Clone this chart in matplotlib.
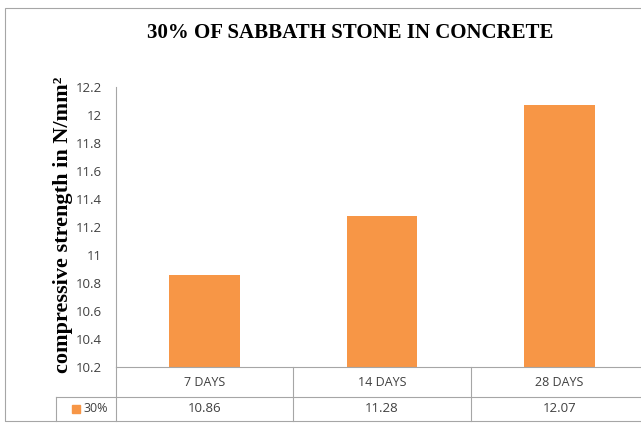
import matplotlib
matplotlib.use("Agg")
import matplotlib.pyplot as plt
from matplotlib.patches import Rectangle
from matplotlib.lines import Line2D
import matplotlib.transforms as mtransforms

# compressive strength results for the 30% mix
ages = ["7 DAYS", "14 DAYS", "28 DAYS"]
strength = [10.86, 11.28, 12.07]
series_name = "30%"
yticks = [10.2, 10.4, 10.6, 10.8, 11, 11.2, 11.4, 11.6, 11.8, 12, 12.2]

bar_color = "#F79646"
line_color = "#A6A6A6"
text_color = "#404040"
sans = ["Open Sans", "DejaVu Sans"]
serif = ["Liberation Serif", "DejaVu Serif"]

W, H = 641, 426
fig = plt.figure(figsize=(W / 100, H / 100), dpi=100)

# plot area in pixel terms
left_px, right_px, top_px, bottom_px = 116, 648, 87, 367
ax = fig.add_axes([left_px / W, 1 - bottom_px / H,
                   (right_px - left_px) / W, (bottom_px - top_px) / H])

x = list(range(len(ages)))
ax.bar(x, strength, width=0.4, color=bar_color, zorder=2)
ax.set_xlim(-0.5, len(ages) - 0.5)
ax.set_ylim(10.2, 12.2)
ax.set_yticks(yticks)
ax.set_yticklabels([f"{v:g}" for v in yticks], fontfamily=sans, fontsize=9.5,
                   color=text_color)
ax.tick_params(axis="y", length=0, pad=10)
ax.set_xticks([])

for side in ["top", "right"]:
    ax.spines[side].set_visible(False)
for side in ["left", "bottom"]:
    ax.spines[side].set_color(line_color)
    ax.spines[side].set_linewidth(0.8)

# data table beneath the axis
trans = mtransforms.blended_transform_factory(ax.transData, fig.transFigure)
fy = lambda py: 1 - py / H
row1_top, row2_top, table_bottom = 367, 397, 421
edges = [i - 0.5 for i in range(len(ages) + 1)]
for e in edges:
    fig.add_artist(Line2D([e, e], [fy(row1_top), fy(table_bottom)], transform=trans,
                          color=line_color, lw=0.8, clip_on=False))
# rule between header row and values row, running under the legend cell
fig.add_artist(Line2D([56 / W, 1.02], [fy(row2_top), fy(row2_top)],
                      transform=fig.transFigure, color=line_color, lw=0.8))
fig.add_artist(Line2D([56 / W, 56 / W], [fy(row2_top), fy(table_bottom)],
                      transform=fig.transFigure, color=line_color, lw=0.8))

for i, (lab, val) in enumerate(zip(ages, strength)):
    fig.text(i, fy(382), lab, transform=trans, ha="center", va="center",
             fontfamily=sans, fontsize=9, color=text_color)
    fig.text(i, fy(409), f"{val:.2f}", transform=trans, ha="center", va="center",
             fontfamily=sans, fontsize=9.5, color=text_color)

# legend key in the table
fig.add_artist(Rectangle((72 / W, fy(413)), 8 / W, 8 / H, transform=fig.transFigure,
                         color=bar_color))
fig.text(83 / W, fy(409), series_name, ha="left", va="center",
         fontfamily=sans, fontsize=9, color=text_color)

# outer chart frame
fig.add_artist(Rectangle((5 / W, fy(421)), 1.1, (421 - 8) / H, transform=fig.transFigure,
                         fill=False, edgecolor=line_color, lw=0.8))

fig.text(350 / W, fy(33), "30% OF SABBATH STONE IN CONCRETE", ha="center", va="center",
         fontfamily=serif, fontweight="bold", fontsize=15, color="black")
fig.text(63 / W, fy(225), "compressive strength in N/mm²", rotation=90,
         ha="center", va="center", fontfamily=serif, fontweight="bold", fontsize=16,
         color="black")

fig.savefig("out.png", dpi=100)
